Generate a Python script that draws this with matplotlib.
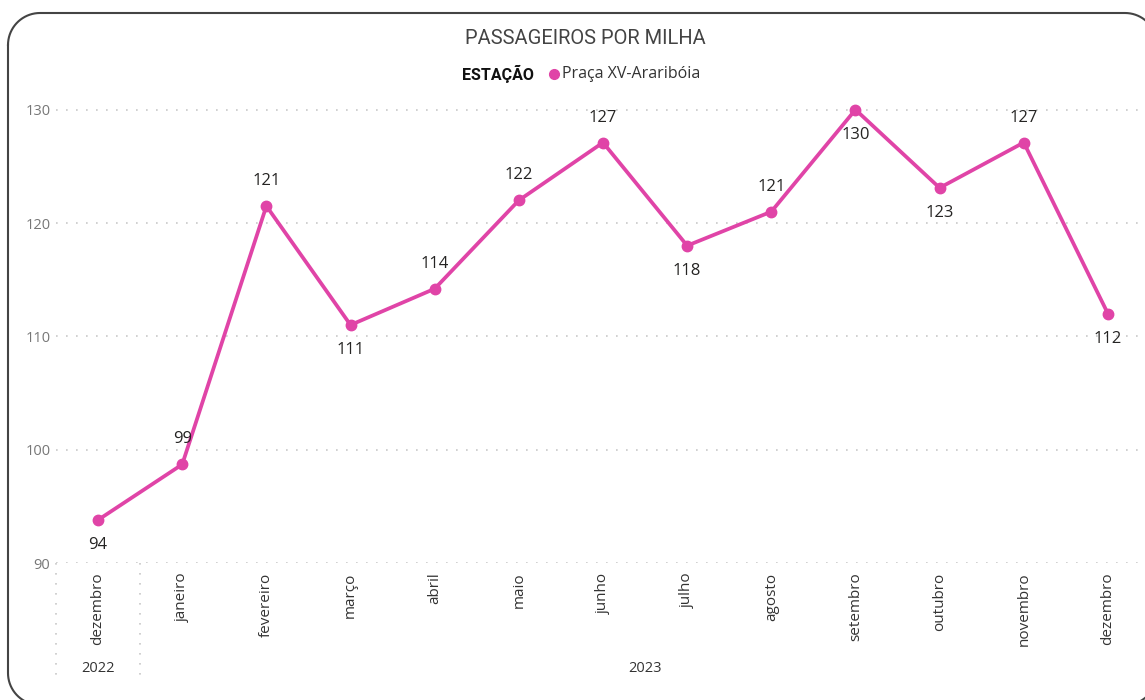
import matplotlib as mpl
mpl.use('Agg')

import numpy as np
import matplotlib.pyplot as plt
from matplotlib.lines import Line2D
from matplotlib.transforms import blended_transform_factory

# data
months = ['dezembro', 'janeiro', 'fevereiro', 'março', 'abril', 'maio', 'junho',
          'julho', 'agosto', 'setembro', 'outubro', 'novembro', 'dezembro']
years = ['2022', '2023']
year_counts = [1, 12]
values = [93.8, 98.7, 121.5, 111.0, 114.2, 122.0, 127.1, 118.0, 121.0, 130.0, 123.1, 127.1, 112.0]
value_labels = ['94', '99', '121', '111', '114', '122', '127', '118', '121', '130', '123', '127', '112']
label_above = [False, True, True, False, True, True, True, False, True, False, False, True, False]
y_ticks = [90, 100, 110, 120, 130]

PINK = '#E044A7'
GRID = '#c8c8c8'
FONT = ['Open Sans', 'DejaVu Sans']

plt.rcParams['font.family'] = FONT

W, H = 1145, 700
fig = plt.figure(figsize=(W / 100, H / 100), dpi=100)

# overlay in pixel units (y down) for the rounded card border
bg = fig.add_axes([0, 0, 1, 1])
bg.set_xlim(0, W)
bg.set_ylim(H, 0)
bg.axis('off')


def rounded_rect(x0, y0, x1, y1, r):
    # corners: top-left, top-right, bottom-right, bottom-left (y grows downward)
    xs, ys = [], []
    centers = [(x0 + r, y0 + r, 180, 270), (x1 - r, y0 + r, 270, 360),
               (x1 - r, y1 - r, 0, 90), (x0 + r, y1 - r, 90, 180)]
    for cx, cy, a0, a1 in centers:
        t = np.radians(np.linspace(a0, a1, 20))
        xs.extend(cx + r * np.cos(t))
        ys.extend(cy + r * np.sin(t))
    xs.append(xs[0])
    ys.append(ys[0])
    return xs, ys


bx, by = rounded_rect(8, 13, 1157, 705, 32)
bg.plot(bx, by, color='#444444', linewidth=1.5, clip_on=False)

# axes position in pixels: left 56, right 1150, top 87, bottom 563
ax = fig.add_axes([56 / W, (H - 563) / H, (1150 - 56) / W, (563 - 87) / H])
ax.patch.set_alpha(0)

x = list(range(len(values)))
ax.plot(x, values, color=PINK, linewidth=2.7, marker='o', markersize=7.5,
        solid_joinstyle='round', zorder=3)

for i, (v, lab, up) in enumerate(zip(values, value_labels, label_above)):
    ax.annotate(lab, (i, v), xytext=(0, 18 if up else -18), textcoords='offset points',
                ha='center', va='center', fontsize=12, color='#252423', zorder=4)

ax.set_xlim(-0.5, 12.5)
ax.set_ylim(90, 132)
ax.set_yticks(y_ticks)
ax.set_xticks(x)
ax.set_xticklabels(months, rotation=90, va='top', fontsize=11, color='#333333')
ax.tick_params(axis='x', length=0, pad=7)
ax.tick_params(axis='y', length=0, pad=4, labelsize=10.5, labelcolor='#777777')

ax.grid(axis='y', color=GRID, linestyle=(0, (1, 5)), linewidth=1.2)
for s in ax.spines.values():
    s.set_visible(False)

# year separators and labels
trans = blended_transform_factory(ax.transData, ax.transAxes)
depth = -(683 - 563) / (563 - 87)
start = -0.5
for yr, n in zip(years, year_counts):
    ax.plot([start, start], [0, depth], transform=trans, clip_on=False,
            color=GRID, linestyle=(0, (1, 5)), linewidth=1.2)
    ax.text(start + n / 2, -(668 - 563) / (563 - 87), yr, transform=trans,
            ha='center', va='center', fontsize=10.5, color='#333333')
    start += n

# title and legend
fig.text(585 / W, 1 - 38 / H, 'PASSAGEIROS POR MILHA', ha='center', va='center',
         fontsize=14.5, color='#444444', family=['Roboto', 'DejaVu Sans'])
fig.text(462 / W, 1 - 74 / H, 'ESTAÇÃO', ha='left', va='center', fontsize=11.5,
         fontweight='bold', color='#111111', family=['Roboto', 'DejaVu Sans'])
fig.add_artist(Line2D([554 / W], [1 - 74 / H], marker='o', markersize=7,
                      color=PINK, transform=fig.transFigure))
fig.text(562 / W, 1 - 74 / H, 'Praça XV-Araribóia', ha='left', va='center',
         fontsize=11.5, color='#333333')

fig.savefig('out.png', dpi=100)
